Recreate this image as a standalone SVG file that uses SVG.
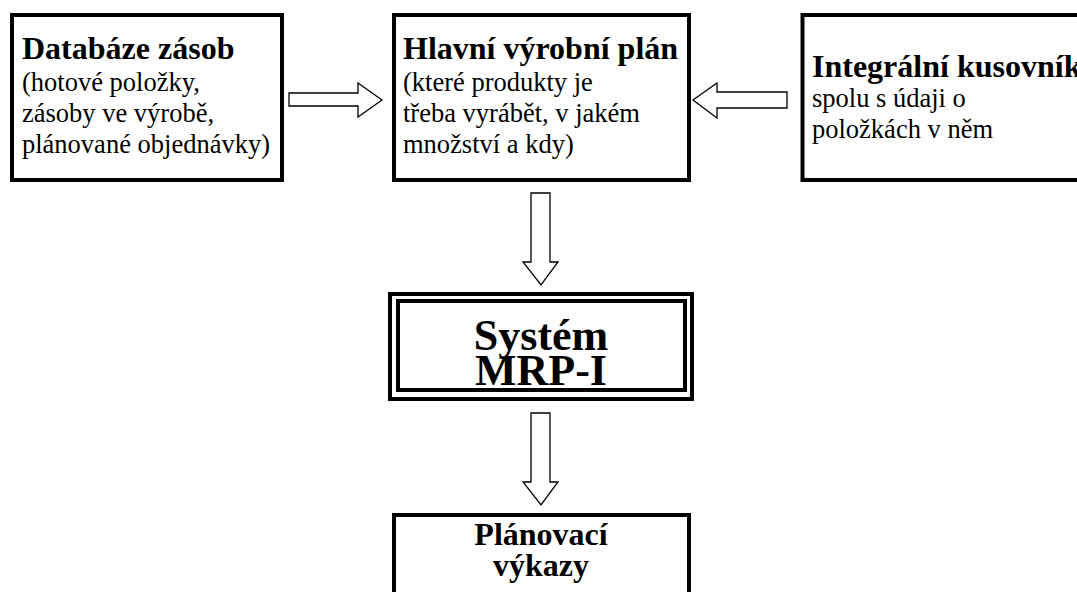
<svg xmlns="http://www.w3.org/2000/svg" width="1077" height="592" viewBox="0 0 1077 592">
  <style>
    .box { fill: #fff; stroke: #000; stroke-width: 4; }
    .arrow { fill: #fff; stroke: #000; stroke-width: 1.3; stroke-linejoin: miter; }
    text { font-family: "Liberation Serif", "Times New Roman", serif; fill: #000; }
    .head { font-size: 32px; font-weight: bold; }
    .body { font-size: 26.5px; }
    .big { font-size: 44px; font-weight: bold; }
  </style>
  <rect width="1077" height="592" fill="#fff"/>

  <!-- hollow block arrows between the boxes -->
  <g id="connectors">
    <polygon class="arrow" points="289,93 358,93 358,83 382,100 358,117 358,106 289,106"/>
    <polygon class="arrow" points="787,92 717,92 717,83 693,100 717,118 717,108 787,108"/>
    <polygon class="arrow" points="531,193 550,193 550,262 558,262 541,285 523,262 531,262"/>
    <polygon class="arrow" points="531,413 550,413 550,482 558,482 541,505 523,482 531,482"/>
  </g>

  <g id="inventory-db">
    <rect class="box" x="12" y="15" width="270" height="165"/>
    <text class="head" x="22" y="59">Databáze zásob</text>
    <text class="body" x="22" y="91">(hotové položky,</text>
    <text class="body" x="22" y="122">zásoby ve výrobě,</text>
    <text class="body" x="22" y="153">plánované objednávky)</text>
  </g>

  <g id="master-schedule">
    <rect class="box" x="394" y="15" width="295" height="165"/>
    <text class="head" x="403" y="59">Hlavní výrobní plán</text>
    <text class="body" x="403" y="91">(které produkty je</text>
    <text class="body" x="403" y="122">třeba vyrábět, v jakém</text>
    <text class="body" x="403" y="153">množství a kdy)</text>
  </g>

  <g id="bill-of-materials">
    <rect class="box" x="802.5" y="15" width="300" height="165"/>
    <text class="head" x="812" y="77">Integrální kusovník</text>
    <text class="body" x="812" y="107">spolu s údaji o</text>
    <text class="body" x="812" y="138">položkách v něm</text>
  </g>

  <!-- double-framed central system box -->
  <g id="mrp-system">
    <rect class="box" x="390" y="294" width="302" height="105"/>
    <rect class="box" x="398" y="301" width="287" height="89"/>
    <text class="big" x="541" y="350" text-anchor="middle">Systém</text>
    <text class="big" x="541" y="385" text-anchor="middle">MRP-I</text>
  </g>

  <g id="planning-reports">
    <rect class="box" x="394" y="515" width="295" height="100"/>
    <text class="head" x="541" y="545" text-anchor="middle">Plánovací</text>
    <text class="head" x="541" y="576" text-anchor="middle">výkazy</text>
  </g>
</svg>
